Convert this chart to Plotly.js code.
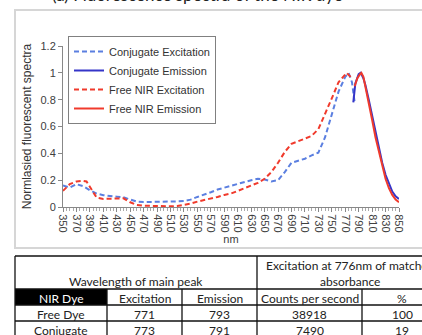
<!DOCTYPE html>
<html>
<head>
<meta charset="utf-8">
<script src="https://cdn.plot.ly/plotly-3.0.1.min.js"></script>
<style>
html,body{margin:0;padding:0;overflow:hidden;background:#fff;width:422px;height:335px;}
#chart{position:absolute;left:0;top:-10px;width:450px;height:355px;}
</style>
</head>
<body>
<div id="chart"></div>
<script>
// Conjugate excitation (blue dashed)
const conjExWl = [350,360,370,380,390,400,410,420,430,440,450,460,470,480,490,500,510,520,530,540,550,560,570,580,590,600,610,620,630,640,650,660,670,680,690,700,710,720,730,740,750,760,770,775,780,784];
const conjExVal = [0.16,0.145,0.17,0.155,0.125,0.10,0.088,0.08,0.077,0.072,0.055,0.04,0.037,0.037,0.038,0.04,0.042,0.042,0.045,0.055,0.075,0.09,0.11,0.13,0.145,0.16,0.175,0.19,0.2,0.21,0.205,0.19,0.2,0.26,0.33,0.345,0.36,0.385,0.405,0.52,0.69,0.86,0.97,1.0,0.93,0.78];
// Conjugate emission (blue solid)
const conjEmWl = [782,785,790,793,797,800,805,810,815,820,825,830,835,840,845,850];
const conjEmVal = [0.78,0.92,0.99,1.0,0.96,0.91,0.8,0.68,0.56,0.44,0.33,0.24,0.17,0.115,0.08,0.06];
// Free NIR excitation (red dashed)
const freeExWl = [350,360,370,380,385,390,400,410,420,430,440,450,460,470,480,490,500,510,520,530,540,550,560,570,580,590,600,610,620,630,640,650,660,670,680,690,700,710,720,730,740,750,760,770,772,780];
const freeExVal = [0.12,0.17,0.19,0.195,0.19,0.15,0.07,0.06,0.06,0.065,0.065,0.035,0.015,0.01,0.008,0.005,0.005,0.005,0.008,0.015,0.025,0.04,0.05,0.065,0.075,0.09,0.1,0.12,0.14,0.16,0.18,0.21,0.26,0.33,0.41,0.47,0.49,0.51,0.53,0.58,0.69,0.81,0.93,0.99,1.0,0.96];
// Free NIR emission (red solid)
const freeEmWl = [784,788,792,794,797,800,805,810,815,820,825,830,835,840,845,850];
const freeEmVal = [0.9,0.96,0.99,1.0,0.97,0.9,0.78,0.65,0.52,0.41,0.3,0.21,0.14,0.09,0.055,0.035];

const seriesNames = ["Conjugate Excitation","Conjugate Emission","Free NIR Excitation","Free NIR Emission"];

// Table contents
const groupHeaders = ["Wavelength of main peak","Excitation at 776nm of matched<br>absorbance"];
const tableHeader = ["NIR Dye","Excitation","Emission","Counts per second","%"];
const dyeNames = ["Free Dye","Conjugate"];
const peakExcitation = ["771","773"];
const peakEmission = ["793","791"];
const countsPerSecond = ["38918","7490"];
const percent = ["100","19"];

const W = 450, H = 355, OFF = 10;           // layout is shifted 10px above the page
const px = v => v / W;
const py = v => (H - (v + OFF)) / H;         // v given in page pixels

const blueDash = "#5b7fe0", blueSolid = "#3535c8", red = "#f03a2c";

const traces = [
  {x: conjExWl, y: conjExVal, name: seriesNames[0], type: "scatter", mode: "lines",
   line: {color: blueDash, width: 2, dash: "5px,3px"}},
  {x: conjEmWl, y: conjEmVal, name: seriesNames[1], type: "scatter", mode: "lines",
   line: {color: blueSolid, width: 2}},
  {x: freeExWl, y: freeExVal, name: seriesNames[2], type: "scatter", mode: "lines",
   line: {color: red, width: 2, dash: "5px,3px"}},
  {x: freeEmWl, y: freeEmVal, name: seriesNames[3], type: "scatter", mode: "lines",
   line: {color: red, width: 2}}
];

// ---- table drawn with shapes + text annotations ----
const colX = [15, 107, 182, 257, 362, 442];
const rowY = [256, 289, 305, 321, 337];
const tFont = {family: "Lato, sans-serif", size: 12, color: "#222"};
const lineStyle = {color: "#111", width: 1.3};
const shapes = [
  {type: "rect", xref: "paper", yref: "paper", x0: px(15), x1: px(447), y0: py(248), y1: py(10),
   line: {color: "#d6d6d6", width: 2}, layer: "below"},
  // black "NIR Dye" cell
  {type: "rect", xref: "paper", yref: "paper", x0: px(colX[0]), x1: px(colX[1]), y0: py(rowY[2]), y1: py(rowY[1]),
   line: {width: 0}, fillcolor: "black", layer: "below"}
];
function hline(y, x0, x1) {
  shapes.push({type: "line", xref: "paper", yref: "paper", x0: px(x0), x1: px(x1), y0: py(y), y1: py(y), line: lineStyle});
}
function vline(x, y0, y1) {
  shapes.push({type: "line", xref: "paper", yref: "paper", x0: px(x), x1: px(x), y0: py(y0), y1: py(y1), line: lineStyle});
}
rowY.forEach(y => hline(y, colX[0], colX[5]));
vline(colX[0], rowY[0], rowY[4]);
vline(colX[3], rowY[0], rowY[4]);
[1, 2, 4].forEach(i => vline(colX[i], rowY[1], rowY[4]));

const annotations = [
  {xref: "paper", yref: "paper", x: px(345), y: py(-5), xanchor: "right", yanchor: "middle",
   text: "(a) Fluorescence spectra of the NIR dye", showarrow: false,
   font: {family: "Lato, sans-serif", size: 17, color: "#222"}}
];
function cellText(text, cx, cy, color) {
  annotations.push({xref: "paper", yref: "paper", x: px(cx), y: py(cy), xanchor: "center", yanchor: "middle",
    text: text, showarrow: false, font: Object.assign({}, tFont, color ? {color: color} : {})});
}
cellText(groupHeaders[0], (colX[0] + colX[3]) / 2, 281);
annotations.push({xref: "paper", yref: "paper", x: px((colX[3] + colX[5]) / 2), y: py(273.5),
  xanchor: "center", yanchor: "middle", text: groupHeaders[1], showarrow: false, font: tFont});
tableHeader.forEach((t, i) => cellText(t, (colX[i] + colX[i + 1]) / 2, 298, i === 0 ? "white" : null));
const bodyCols = [dyeNames, peakExcitation, peakEmission, countsPerSecond, percent];
dyeNames.forEach((_, r) => {
  bodyCols.forEach((col, i) => cellText(col[r], (colX[i] + colX[i + 1]) / 2, 314 + r * 16));
});

const layout = {
  width: W, height: H,
  margin: {l: 0, r: 0, t: 0, b: 0},
  paper_bgcolor: "white", plot_bgcolor: "white",
  font: {family: "Liberation Sans, Arial, sans-serif", size: 11, color: "#404040"},
  showlegend: true,
  legend: {x: px(68), y: py(36), xanchor: "left", yanchor: "top",
           bordercolor: "#808080", borderwidth: 1, bgcolor: "white",
           font: {size: 11, color: "#333"}},
  xaxis: {domain: [px(63), px(399)], range: [350, 850], tick0: 350, dtick: 20,
          tickangle: 90, showgrid: false, zeroline: false, showline: true,
          linecolor: "#888", ticks: "outside", ticklen: 4, tickcolor: "#888",
          minor: {dtick: 5, tick0: 350, ticks: "outside", ticklen: 3, tickcolor: "#aaa"},
          tickfont: {size: 11, color: "#404040"},
          title: {text: "nm", standoff: 2, font: {size: 11, color: "#404040"}}},
  yaxis: {domain: [py(207), py(46)], range: [0, 1.2], dtick: 0.2,
          showgrid: false, zeroline: false, showline: true, linecolor: "#888",
          ticks: "outside", ticklen: 4, tickcolor: "#888",
          tickfont: {size: 11, color: "#404040"},
          title: {text: "Normlasied fluorescent spectra", standoff: 6, font: {size: 12, color: "#333"}}},
  shapes: shapes,
  annotations: annotations
};

Plotly.newPlot("chart", traces, layout, {displayModeBar: false, staticPlot: true});
</script>
</body>
</html>
